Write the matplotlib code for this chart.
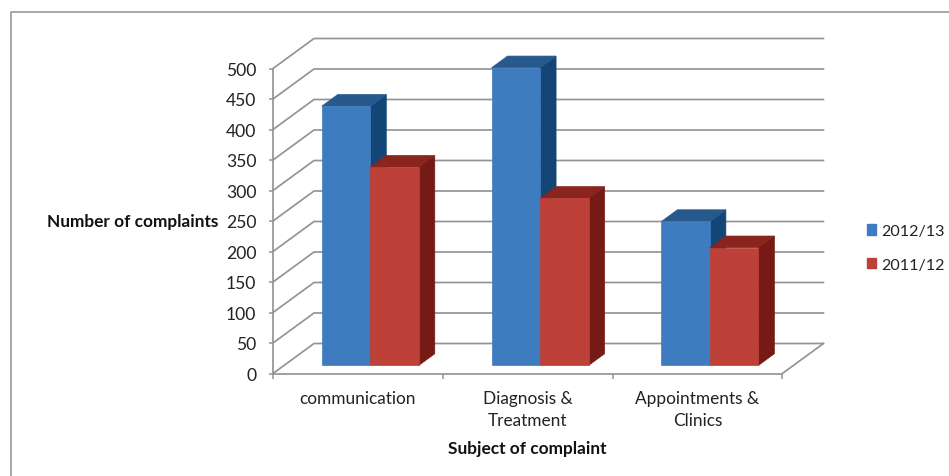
#!/usr/bin/env python3

from matplotlib import pyplot as plt
from matplotlib.lines import Line2D
from matplotlib.patches import Patch

categories = ["communication", "Diagnosis &\nTreatment", "Appointments &\nClinics"]
series_names = ["2012/13", "2011/12"]
values_1213 = [425, 488, 236]
values_1112 = [325, 274, 193]
yticks = [0, 50, 100, 150, 200, 250, 300, 350, 400, 450, 500]

W, H = 949, 477
GREY = '#949494'
front_colors = ['#3f7cbf', '#be4139']
top_colors = ['#27598c', '#8a241f']
side_colors = ['#134676', '#751a15']

# wall depth in data units, one unit of depth = whole floor
depth_x = 41/169.8
depth_y = 30/0.61

bar_w = 0.2856
bar_start = 0.2225
bar_front = 11/41  # fraction of floor depth in front of the bars
bar_back = 27/41


def proj(x, y, d):
    return x+d*depth_x, y+d*depth_y


def face(ax, pts, color, z):
    xs = [p[0] for p in pts]
    ys = [p[1] for p in pts]
    ax.fill(xs, ys, facecolor=color, edgecolor=color, linewidth=0.5, clip_on=False, zorder=z)


def bar3d(ax, x0, val, idx, z):
    x1 = x0+bar_w
    face(ax, [proj(x1, 0, bar_front), proj(x1, 0, bar_back), proj(x1, val, bar_back), proj(x1, val, bar_front)], side_colors[idx], z)
    face(ax, [proj(x0, val, bar_front), proj(x1, val, bar_front), proj(x1, val, bar_back), proj(x0, val, bar_back)], top_colors[idx], z)
    face(ax, [proj(x0, 0, bar_front), proj(x1, 0, bar_front), proj(x1, val, bar_front), proj(x0, val, bar_front)], front_colors[idx], z+0.1)


fig = plt.figure(figsize=(W/100, H/100), dpi=100)
plt.rcParams['font.family'] = ['Lato', 'DejaVu Sans']

# outer frame of the pasted picture
fig.add_artist(Line2D([11/W, 11/W, 1], [0, 1-12.5/H, 1-12.5/H], color='#a0a0a0', lw=1.3))

ax = fig.add_axes([273/W, 1-374.5/H, 509.4/W, 305/H])
ax.set_xlim(0, 3)
ax.set_ylim(0, 500)
ax.patch.set_alpha(0)

# back wall and side wall lines
for v in yticks:
    x_b, y_b = proj(0, v, 1)
    x_e, _ = proj(3, v, 1)
    ax.plot([0, x_b, x_e], [v, y_b, y_b], color=GREY, lw=1.25, clip_on=False, zorder=1)
x_f, y_f = proj(3, 0, 1)
ax.plot([3, x_f], [0, y_f], color=GREY, lw=1.25, clip_on=False, zorder=1)

for i in range(len(categories)):
    bar3d(ax, i+bar_start, values_1213[i], 0, 3+i)
    bar3d(ax, i+bar_start+bar_w, values_1112[i], 1, 3.5+i)

for s in ['top', 'right']:
    ax.spines[s].set_visible(False)
for s in ['left', 'bottom']:
    ax.spines[s].set_color(GREY)
    ax.spines[s].set_linewidth(1.25)

ax.set_yticks(yticks)
ax.set_xticks(range(4))
ax.set_xticklabels([])
ax.set_xticks([0.5, 1.5, 2.5], minor=True)
ax.set_xticklabels(categories, minor=True, linespacing=1.48)
ax.tick_params(axis='x', which='minor', length=0, pad=11.8, labelsize=12.4, labelcolor='#222222')
ax.tick_params(axis='x', which='major', length=3.5, width=1.1, color=GREY)
ax.tick_params(axis='y', length=3, width=1.1, color=GREY, pad=9, labelsize=12.6, labelcolor='#222222')

fig.text(47/W, 1-222/H, "Number of complaints", fontsize=12.4, fontweight='bold', va='center', ha='left', color='#111111')
fig.text(527/W, 1-449/H, "Subject of complaint", fontsize=12.4, fontweight='bold', va='center', ha='center', color='#111111')

handles = [Patch(color=front_colors[0]), Patch(color=front_colors[1])]
fig.legend(handles, series_names, loc='center left', bbox_to_anchor=(852/W, 1-249/H), frameon=False,
           fontsize=11.6, handlelength=0.62, handleheight=0.62, handletextpad=0.28, labelspacing=1.2, labelcolor='#222222')

plt.savefig("out.png", dpi=100)
